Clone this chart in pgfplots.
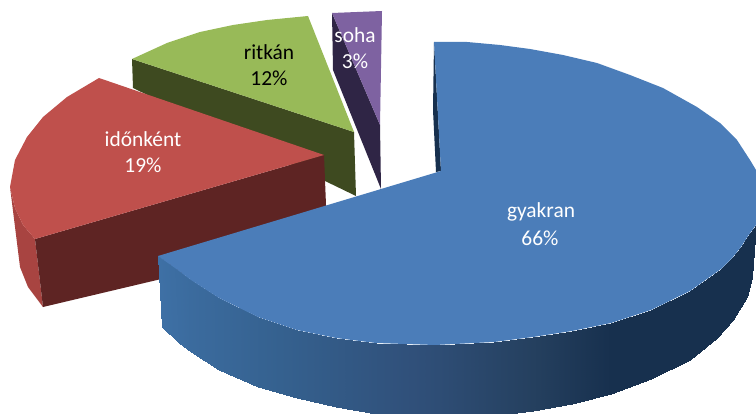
\documentclass[border=0pt]{standalone}
\usepackage{fontspec}
\setmainfont{Carlito}
\usepackage{pgfplots}
\pgfplotsset{compat=1.18}
\definecolor{bluetop}{RGB}{75,125,185}
\definecolor{bluedark}{RGB}{23,48,78}
\definecolor{redtop}{RGB}{191,80,76}
\definecolor{redfront}{RGB}{94,36,35}
\definecolor{redside}{RGB}{168,68,65}
\definecolor{greentop}{RGB}{152,186,88}
\definecolor{greenside}{RGB}{62,74,32}
\definecolor{purpletop}{RGB}{126,98,161}
\definecolor{purpleside}{RGB}{47,37,69}
\begin{document}
\begin{tikzpicture}
\begin{axis}[
  scale only axis, width=756bp, height=414bp,
  xmin=0, xmax=756, ymin=0, ymax=414, y dir=reverse,
  hide axis, no markers,
  colormap={side}{rgb255(0)=(62,112,165) rgb255(3)=(53,97,143) rgb255(6)=(48,80,122) rgb255(9)=(37,64,95) rgb255(11)=(23,48,78) rgb255(14)=(23,48,78)},
  point meta min=0, point meta max=14,
]
% ritkan
\addplot[fill=greenside,draw=none] coordinates {(132,59)(354,132)(356,196)(133,88)} -- cycle;
\addplot[fill=greentop,draw=none] coordinates {(132,59)(167,43)(200,32)(233,25)(267,20)(308,16)(354,132)} -- cycle;
% soha
\addplot[fill=purpleside,draw=none] coordinates {(332,13)(380,125)(381,189)(333,70)} -- cycle;
\addplot[fill=purpletop,draw=none] coordinates {(332,13)(382,11)(380,125)} -- cycle;
% idonkent
\addplot[fill=redside,draw=none] coordinates {(10,187)(15,227)(20,267)(28,287)(43,307)(35,239)(23,225)(15,208)} -- cycle;
\addplot[fill=redfront,draw=none] coordinates {(35,239)(324,155)(326,205)(326,240)(43,307)} -- cycle;
\addplot[fill=redtop,draw=none] coordinates {(99,78)(67,97)(43,117)(27,137)(15,160)(10,187)(15,208)(23,225)(35,239)(324,155)} -- cycle;
% gyakran
\addplot[fill=bluedark,draw=none] coordinates {(434,42)(433,110)(436,172)(441,171)} -- cycle;
\addplot[patch, patch type=rectangle, shader=interp, point meta=explicit]
 table[x=x,y=y,meta=c] {
x y c
158 256 0
175 268 0.5
179 343 0.5
162 327 0
175 268 0.5
191 280 1
191 352 1
179 343 0.5
191 280 1
219 298 1.6
219 370 1.6
191 352 1
219 298 1.6
258 317 2.5
258 387 2.5
219 370 1.6
258 317 2.5
297 330 3.4
297 398 3.4
258 387 2.5
297 330 3.4
336 338 4.3
336 407 4.3
297 398 3.4
336 338 4.3
376 343 5.2
376 414 5.2
336 407 4.3
376 343 5.2
435 345 6.5
435 418 6.5
376 414 5.2
435 345 6.5
494 342 8
494 416 8
435 418 6.5
494 342 8
533 337 9
533 411 9
494 416 8
533 337 9
572 331 10
572 404 10
533 411 9
572 331 10
611 323 11
611 394 11
572 404 10
611 323 11
651 310 12
651 379 12
611 394 11
651 310 12
690 291 13
690 360 13
651 379 12
690 291 13
721 269 14
717 338 14
690 360 13
721 269 14
733 257 14
733 320 14
717 338 14
733 257 14
741 247 14
747 297 14
733 320 14
741 247 14
748 236 14
752 277 14
747 297 14
748 236 14
756 225 14
753 253 14
752 277 14
};
\addplot[fill=bluetop,draw=none] coordinates {(434,42)(467,42)(500,45)(530,49)(563,55)(597,63)(630,75)(663,88)(697,107)(720,123)(737,140)(750,160)(756,170)(760,200)(756,225)(748,236)(741,247)(733,257)(721,269)(690,291)(651,310)(611,323)(572,331)(533,337)(494,342)(435,345)(376,343)(336,338)(297,330)(258,317)(219,298)(191,280)(175,268)(158,256)(441,171)} -- cycle;
% labels
\node[text=white,font=\fontsize{21.5}{24}\selectfont] at (axis cs:541,212) {gyakran};
\node[text=white,font=\fontsize{21.5}{24}\selectfont] at (axis cs:540,238) {66\%};
\node[text=white,font=\fontsize{21.5}{24}\selectfont] at (axis cs:143,139) {időnként};
\node[text=white,font=\fontsize{21.5}{24}\selectfont] at (axis cs:143,165) {19\%};
\node[text=black,font=\fontsize{21.5}{24}\selectfont] at (axis cs:269,52) {ritkán};
\node[text=black,font=\fontsize{21.5}{24}\selectfont] at (axis cs:269,78) {12\%};
\node[text=white,font=\fontsize{21.5}{24}\selectfont] at (axis cs:355,35) {soha};
\node[text=white,font=\fontsize{21.5}{24}\selectfont] at (axis cs:355,61) {3\%};
\end{axis}
\pgfresetboundingbox
\useasboundingbox (current axis.south west) rectangle (current axis.north east);
\end{tikzpicture}
\end{document}
